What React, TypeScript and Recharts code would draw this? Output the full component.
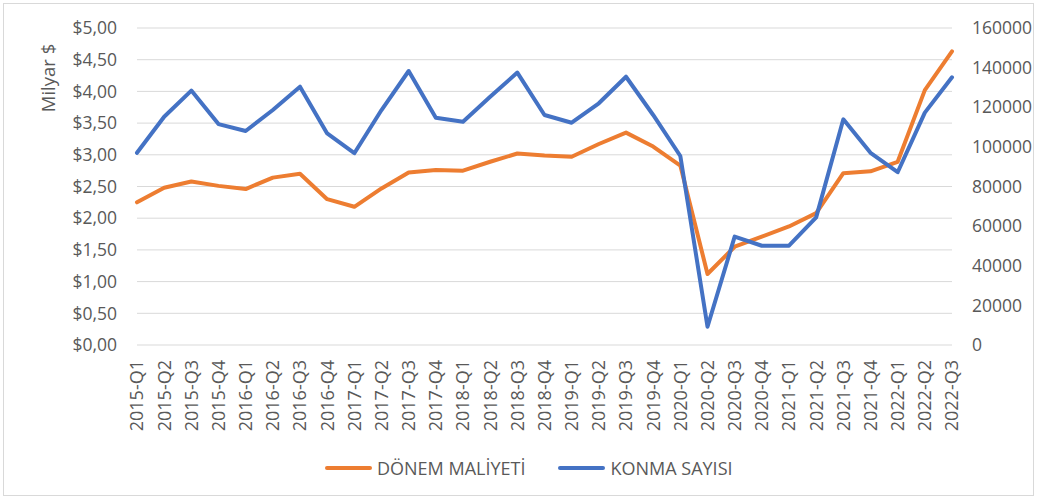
import { CartesianGrid, Legend, Line, LineChart, XAxis, YAxis } from "recharts";

const quarters = [
    "2015-Q1", "2015-Q2", "2015-Q3", "2015-Q4",
    "2016-Q1", "2016-Q2", "2016-Q3", "2016-Q4",
    "2017-Q1", "2017-Q2", "2017-Q3", "2017-Q4",
    "2018-Q1", "2018-Q2", "2018-Q3", "2018-Q4",
    "2019-Q1", "2019-Q2", "2019-Q3", "2019-Q4",
    "2020-Q1", "2020-Q2", "2020-Q3", "2020-Q4",
    "2021-Q1", "2021-Q2", "2021-Q3", "2021-Q4",
    "2022-Q1", "2022-Q2", "2022-Q3",
];

// milyar $
const donemMaliyeti = [
    2.25, 2.48, 2.58, 2.51,
    2.46, 2.64, 2.70, 2.30,
    2.18, 2.47, 2.72, 2.76,
    2.75, 2.89, 3.02, 2.99,
    2.97, 3.17, 3.35, 3.13,
    2.83, 1.12, 1.55, 1.71,
    1.87, 2.08, 2.71, 2.74,
    2.89, 4.02, 4.63,
];

const konmaSayisi = [
    97000, 115200, 128400, 111500,
    108000, 118600, 130400, 106800,
    96800, 118600, 138300, 114700,
    112700, 125300, 137500, 116100,
    112200, 122000, 135400, 116100,
    95400, 9200, 54700, 50100,
    50100, 64400, 113900, 97000,
    87200, 117300, 135100,
];

const leftTicks = [0, 0.5, 1, 1.5, 2, 2.5, 3, 3.5, 4, 4.5, 5];
const rightTicks = [0, 20000, 40000, 60000, 80000, 100000, 120000, 140000, 160000];

const data = quarters.map((q, i) => ({
    name: q,
    maliyet: donemMaliyeti[i],
    konma: konmaSayisi[i],
}));

const ORANGE = "#ED7D31";
const BLUE = "#4472C4";
const TEXT = "#595959";
const FONT = "'Open Sans', sans-serif";

function QuarterTick({ x, y, payload }: any) {
    return (
        <text
            transform={`translate(${x},${y}) rotate(-90)`}
            textAnchor="end"
            dy="0.36em"
            fill={TEXT}
            fontSize={18}
            fontFamily={FONT}
        >
            {payload.value}
        </text>
    );
}

function LegendContent() {
    const items = [
        { label: "DÖNEM MALİYETİ", color: ORANGE },
        { label: "KONMA SAYISI", color: BLUE },
    ];
    return (
        <div style={{ display: "flex", alignItems: "center", paddingLeft: 325, fontFamily: FONT }}>
            {items.map((it) => (
                <div key={it.label} style={{ display: "flex", alignItems: "center", marginRight: 33 }}>
                    <div style={{ width: 47, height: 4, borderRadius: 2, background: it.color, marginRight: 5 }} />
                    <span style={{ fontSize: 18, color: TEXT }}>{it.label}</span>
                </div>
            ))}
        </div>
    );
}

export default function App() {
    return (
        <div style={{ position: "absolute", left: 0, top: 0, width: 1039, height: 501, background: "#fff" }}>
            <div
                style={{
                    position: "absolute",
                    left: 3,
                    top: 3,
                    width: 1031,
                    height: 493,
                    border: "1px solid #d9d9d9",
                    boxSizing: "border-box",
                }}
            />
            <LineChart
                width={1039}
                height={501}
                data={data}
                margin={{ top: 28, right: 0, bottom: 0, left: 0 }}
                style={{ position: "absolute", left: 0, top: 0 }}
            >
                <CartesianGrid vertical={false} stroke="#d9d9d9" strokeWidth={1} yAxisId="left" />
                <XAxis
                    dataKey="name"
                    interval={0}
                    height={156}
                    axisLine={false}
                    tickLine={false}
                    tickSize={0}
                    tickMargin={15}
                    tick={<QuarterTick />}
                />
                <YAxis
                    yAxisId="left"
                    orientation="left"
                    width={137}
                    domain={[0, 5]}
                    ticks={leftTicks}
                    axisLine={false}
                    tickLine={false}
                    tickSize={0}
                    tickMargin={20}
                    tickFormatter={(v: number) => "$" + v.toFixed(2).replace(".", ",")}
                    tick={{ fill: TEXT, fontSize: 17.5, fontFamily: FONT }}
                    label={{
                        content: () => (
                            <text
                                transform="translate(48,78) rotate(-90)"
                                textAnchor="middle"
                                dy="0.36em"
                                fill={TEXT}
                                fontSize={18.5}
                                fontFamily={FONT}
                            >
                                Milyar $
                            </text>
                        ),
                    }}
                />
                <YAxis
                    yAxisId="right"
                    orientation="right"
                    width={87}
                    domain={[0, 160000]}
                    ticks={rightTicks}
                    axisLine={false}
                    tickLine={false}
                    tickSize={0}
                    tickMargin={20}
                    tick={{ fill: TEXT, fontSize: 17.5, fontFamily: FONT }}
                />
                <Legend
                    verticalAlign="middle"
                    align="center"
                    layout="horizontal"
                    content={<LegendContent />}
                    wrapperStyle={{ top: 456, left: 0, width: 1039 }}
                />
                <Line
                    yAxisId="left"
                    type="linear"
                    dataKey="maliyet"
                    name="DÖNEM MALİYETİ"
                    stroke={ORANGE}
                    strokeWidth={4}
                    strokeLinejoin="round"
                    strokeLinecap="round"
                    dot={false}
                    isAnimationActive={false}
                />
                <Line
                    yAxisId="right"
                    type="linear"
                    dataKey="konma"
                    name="KONMA SAYISI"
                    stroke={BLUE}
                    strokeWidth={4}
                    strokeLinejoin="round"
                    strokeLinecap="round"
                    dot={false}
                    isAnimationActive={false}
                />
            </LineChart>
        </div>
    );
}
